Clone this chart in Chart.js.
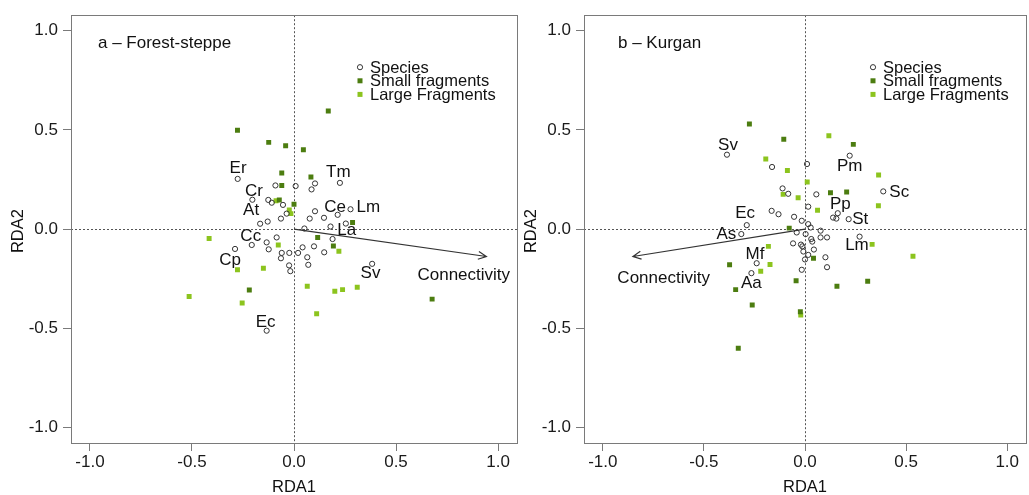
<!DOCTYPE html>
<html><head><meta charset="utf-8">
<script src="https://cdn.jsdelivr.net/npm/chart.js@4.4.1/dist/chart.umd.min.js"></script>
<style>
html,body{margin:0;padding:0;background:#fff;overflow:hidden;width:1029px;height:495px;}
canvas{position:absolute;top:0;}
</style></head><body>
<canvas id="ca" width="530" height="495" style="left:0;width:530px;height:495px"></canvas>
<canvas id="cb" width="518" height="495" style="left:513px;width:518px;height:495px"></canvas>
<script>
// ---------- data ----------
const tickValues = [-1, -0.5, 0, 0.5, 1];
const tickLabels = ['-1.0', '-0.5', '0.0', '0.5', '1.0'];
const legendLabels = ['Species', 'Small fragments', 'Large Fragments'];
const axisTitles = ['RDA1', 'RDA2'];

// Panel a – Forest-steppe
const titleA = 'a \u2013 Forest-steppe';
const speciesAx = [-0.276,-0.204,-0.126,-0.109,-0.091,0.008,0.086,0.103,0.225,-0.054,-0.036,-0.064,-0.166,-0.129,0.103,0.077,0.147,0.214,0.277,0.254,0.179,0.051,0.189,-0.207,-0.134,-0.085,-0.124,-0.289,-0.06,-0.023,0.02,0.042,0.098,0.148,-0.064,0.065,0.07,-0.024,-0.018,0.383,-0.134];
const speciesAy = [0.253,0.148,0.147,0.133,0.22,0.217,0.2,0.23,0.233,0.122,0.078,0.053,0.027,0.038,0.09,0.053,0.057,0.072,0.1,0.028,0.013,0.003,-0.05,-0.08,-0.067,-0.042,-0.102,-0.1,-0.12,-0.12,-0.12,-0.092,-0.087,-0.117,-0.147,-0.142,-0.18,-0.183,-0.212,-0.175,-0.512];
const smallAx = [0.168,-0.277,-0.124,-0.041,0.046,-0.060,0.083,-0.060,-0.072,0.0,0.287,0.116,0.193,-0.219,0.677];
const smallAy = [0.595,0.498,0.437,0.42,0.40,0.283,0.263,0.22,0.147,0.125,0.033,-0.042,-0.085,-0.307,-0.353];
const largeAx = [-0.416,-0.277,-0.150,-0.514,-0.254,-0.077,-0.088,-0.023,-0.015,0.065,0.111,0.2,0.238,0.31,0.22];
const largeAy = [-0.047,-0.205,-0.197,-0.34,-0.372,-0.08,0.143,0.097,0.078,-0.288,-0.427,-0.313,-0.305,-0.293,-0.112];
const labelAtext = ['Er','Cr','At','Tm','Ce','Lm','La','Cc','Cp','Sv','Ec'];
const labelAx = [-0.274,-0.196,-0.210,0.217,0.201,0.364,0.258,-0.212,-0.313,0.375,-0.139];
const labelAy = [0.308,0.188,0.097,0.288,0.112,0.112,-0.008,-0.037,-0.158,-0.225,-0.47];
const arrowA = [0.943, -0.138];
const arrowLabelA = ['Connectivity', 0.832, -0.233];

// Panel b – Kurgan
const titleB = 'b \u2013 Kurgan';
const speciesBx = [-0.386,-0.163,0.01,0.221,0.387,-0.111,-0.083,0.056,0.016,0.162,0.139,0.155,0.216,-0.165,-0.131,-0.054,-0.016,-0.288,-0.315,0.016,0.028,0.077,-0.041,0.003,0.077,0.109,0.27,0.031,0.036,-0.059,-0.013,0.044,-0.008,0.016,0,0.101,0.109,-0.016,-0.239,-0.265,-0.02];
const speciesBy = [0.375,0.313,0.328,0.37,0.19,0.205,0.178,0.175,0.113,0.08,0.058,0.053,0.05,0.092,0.075,0.062,0.042,0.02,-0.025,0.025,0.008,-0.008,-0.017,-0.025,-0.042,-0.042,-0.038,-0.05,-0.063,-0.072,-0.087,-0.103,-0.113,-0.13,-0.153,-0.142,-0.192,-0.205,-0.172,-0.222,-0.078];
const smallBx = [-0.275,-0.105,0.239,0.126,0.206,-0.078,-0.373,-0.343,-0.261,-0.044,0.042,0.158,0.31,-0.023,-0.33];
const smallBy = [0.53,0.453,0.427,0.183,0.187,0.005,-0.18,-0.305,-0.383,-0.26,-0.147,-0.288,-0.263,-0.417,-0.6];
const largeBx = [0.118,-0.194,-0.087,0.011,0.364,-0.108,-0.034,0.062,0.363,-0.181,-0.219,-0.173,0.332,0.534,-0.021];
const largeBy = [0.47,0.353,0.295,0.237,0.273,0.175,0.158,0.095,0.118,-0.087,-0.212,-0.178,-0.077,-0.137,-0.433];
const labelBtext = ['Sv','Pm','Sc','Pp','St','Ec','As','Lm','Mf','Aa'];
const labelBx = [-0.381,0.221,0.466,0.175,0.273,-0.296,-0.389,0.257,-0.247,-0.265];
const labelBy = [0.42,0.317,0.187,0.125,0.05,0.08,-0.028,-0.083,-0.128,-0.275];
const arrowB = [-0.851, -0.138];
const arrowLabelB = ['Connectivity', -0.699, -0.247];

// ---------- styles ----------
const FONT = '"Liberation Sans", Arial, sans-serif';
const DARK = '#4c7d10';
const LIGHT = '#8cc41e';
const CIRCLE = '#333333';
const FRAME = '#7a7a7a';
const TEXT = '#111111';

function pts(xs, ys) { return xs.map((x, i) => ({x: x, y: ys[i]})); }

function panelPlugin(p) {
  return {
    id: 'panel',
    beforeDatasetsDraw(chart) {
      const {ctx, chartArea: a, scales: {x, y}} = chart;
      ctx.save();
      ctx.strokeStyle = '#555';
      ctx.lineWidth = 1;
      ctx.setLineDash([2, 2]);
      const x0 = Math.round(x.getPixelForValue(0)) + 0.5;
      const y0 = Math.round(y.getPixelForValue(0)) + 0.5;
      ctx.beginPath();
      ctx.moveTo(x0, a.top); ctx.lineTo(x0, a.bottom);
      ctx.moveTo(a.left, y0); ctx.lineTo(a.right, y0);
      ctx.stroke();
      ctx.setLineDash([]);
      ctx.strokeStyle = FRAME;
      ctx.strokeRect(Math.round(a.left) + 0.5, Math.round(a.top) + 0.5,
                     Math.round(a.right - a.left), Math.round(a.bottom - a.top));
      ctx.restore();
    },
    afterDatasetsDraw(chart) {
      const {ctx, chartArea: a, scales: {x, y}} = chart;
      ctx.save();
      // arrow
      const ox = x.getPixelForValue(0), oy = y.getPixelForValue(0);
      const ex = x.getPixelForValue(p.arrow[0]), ey = y.getPixelForValue(p.arrow[1]);
      ctx.strokeStyle = '#333';
      ctx.lineWidth = 1.2;
      ctx.beginPath();
      ctx.moveTo(ox, oy); ctx.lineTo(ex, ey);
      const ang = Math.atan2(ey - oy, ex - ox);
      const hl = 9, ha = Math.PI / 7;
      ctx.moveTo(ex - hl * Math.cos(ang - ha), ey - hl * Math.sin(ang - ha));
      ctx.lineTo(ex, ey);
      ctx.lineTo(ex - hl * Math.cos(ang + ha), ey - hl * Math.sin(ang + ha));
      ctx.stroke();
      // labels
      ctx.fillStyle = TEXT;
      ctx.font = '17px ' + FONT;
      ctx.textAlign = 'center';
      ctx.textBaseline = 'middle';
      p.labelText.forEach((t, i) => {
        ctx.fillText(t, x.getPixelForValue(p.labelX[i]), y.getPixelForValue(p.labelY[i]));
      });
      ctx.fillText(p.arrowLabel[0], x.getPixelForValue(p.arrowLabel[1]), y.getPixelForValue(p.arrowLabel[2]));
      // panel title
      ctx.textAlign = 'left';
      ctx.fillText(p.title, a.left + p.titleOffset, a.top + 28);
      // legend
      ctx.font = '16.5px ' + FONT;
      const lx = a.left + 289, ly = a.top + 52, dy = 13.6;
      legendLabels.forEach((t, i) => {
        const yy = ly + i * dy;
        if (i === 0) {
          ctx.strokeStyle = CIRCLE; ctx.lineWidth = 1;
          ctx.beginPath(); ctx.arc(lx, yy, 2.6, 0, Math.PI * 2); ctx.stroke();
        } else {
          ctx.fillStyle = i === 1 ? DARK : LIGHT;
          ctx.fillRect(lx - 2.5, yy - 2.5, 5, 5);
        }
        ctx.fillStyle = TEXT;
        ctx.fillText(t, lx + 10, yy + 1);
      });
      ctx.restore();
    },
    afterDraw(chart) {
      const {ctx, chartArea: a} = chart;
      ctx.save();
      ctx.fillStyle = TEXT;
      ctx.font = '16.5px ' + FONT;
      ctx.textAlign = 'center';
      ctx.textBaseline = 'middle';
      ctx.fillText(axisTitles[0], (a.left + a.right) / 2 + p.xTitleShift, 487);
      ctx.translate(a.left - 53, (a.top + a.bottom) / 2 + 2);
      ctx.rotate(-Math.PI / 2);
      ctx.fillText(axisTitles[1], 0, 0);
      ctx.restore();
    }
  };
}

function axis(min, max, isX) {
  return {
    type: 'linear', min: min, max: max,
    afterBuildTicks: s => { s.ticks = tickValues.map(v => ({value: v})); },
    afterFit: s => { if (isX) s.height = 52; else s.width = 71; },
    ticks: {
      callback: (v, i) => tickLabels[i],
      color: '#1a1a1a', font: {family: FONT, size: 17},
      padding: isX ? 1 : 5, maxRotation: 0, autoSkip: false
    },
    grid: {drawOnChartArea: false, drawTicks: true, tickLength: 8, tickColor: FRAME, color: FRAME},
    border: {display: false}
  };
}

function makeChart(id, p, padRight) {
  new Chart(document.getElementById(id), {
    type: 'scatter',
    data: {
      datasets: [
        {label: legendLabels[0], data: pts(p.sx, p.sy), pointStyle: 'circle', pointRadius: 2.6,
         borderColor: CIRCLE, borderWidth: 1, backgroundColor: 'rgba(255,255,255,0)', order: 1},
        {label: legendLabels[1], data: pts(p.smx, p.smy), pointStyle: 'rect', pointRadius: 3.5,
         borderWidth: 0, backgroundColor: DARK, borderColor: DARK, order: 2},
        {label: legendLabels[2], data: pts(p.lgx, p.lgy), pointStyle: 'rect', pointRadius: 3.5,
         borderWidth: 0, backgroundColor: LIGHT, borderColor: LIGHT, order: 3}
      ]
    },
    options: {
      responsive: false, animation: false, devicePixelRatio: 1,
      layout: {padding: {top: 12, right: padRight, left: 0, bottom: 0}},
      plugins: {legend: {display: false}, tooltip: {enabled: false}},
      scales: {x: axis(-1.093, 1.093, true), y: axis(-1.078, 1.078, false)}
    },
    plugins: [panelPlugin(p)]
  });
}

makeChart('ca', {sx: speciesAx, sy: speciesAy, smx: smallAx, smy: smallAy, lgx: largeAx, lgy: largeAy,
  labelText: labelAtext, labelX: labelAx, labelY: labelAy, arrow: arrowA, arrowLabel: arrowLabelA,
  title: titleA, titleOffset: 27, xTitleShift: 0}, 13);
makeChart('cb', {sx: speciesBx, sy: speciesBy, smx: smallBx, smy: smallBy, lgx: largeBx, lgy: largeBy,
  labelText: labelBtext, labelX: labelBx, labelY: labelBy, arrow: arrowB, arrowLabel: arrowLabelB,
  title: titleB, titleOffset: 34, xTitleShift: 0}, 1);
</script>
</body></html>
